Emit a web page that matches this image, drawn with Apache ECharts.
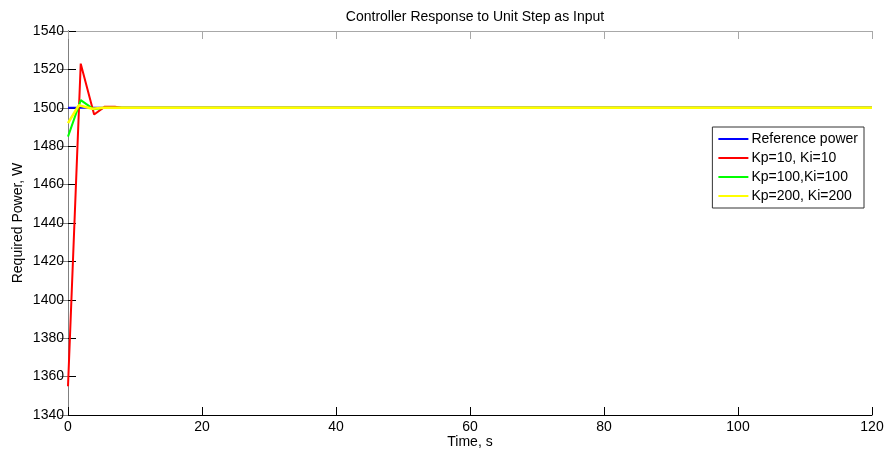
<!DOCTYPE html>
<html>
<head>
<meta charset="utf-8">
<title>Controller Response to Unit Step as Input</title>
<script src="https://cdn.jsdelivr.net/npm/echarts@6/dist/echarts.min.js"></script>
<style>
  html, body { margin: 0; padding: 0; background: #fff; }
  #chart { width: 885px; height: 453px; }
</style>
</head>
<body>
<div id="chart"></div>
<script>
// axis ticks
const xTicks = [0, 20, 40, 60, 80, 100, 120]
const yTicks = [1340, 1360, 1380, 1400, 1420, 1440, 1460, 1480, 1500, 1520, 1540]

// series (time in s, power in W)
const refTime = [0, 120]
const refPower = [1500, 1500]

const kp10Time = [0, 1.9, 3.9, 5.5, 7, 8, 120]
const kp10Power = [1355, 1523, 1496.5, 1500.6, 1500.6, 1500, 1500]

const kp100Time = [0, 1.9, 3.8, 5.5, 120]
const kp100Power = [1485, 1504, 1499.3, 1500, 1500]

const kp200Time = [0, 1.6, 3.6, 5.2, 120]
const kp200Power = [1492, 1501.3, 1499.5, 1500, 1500]

const seriesNames = ['Reference power', 'Kp=10, Ki=10', 'Kp=100,Ki=100', 'Kp=200, Ki=200']
const seriesColors = ['#0000ff', '#ff0000', '#00ff00', '#ffff00']
const seriesWidths = [2, 2, 2, 2.6]

const toPairs = (xs, ys) => xs.map((x, i) => [x, ys[i]])

const chart = echarts.init(document.getElementById('chart'), null, { renderer: 'canvas' })

const font = 'Liberation Sans, Arial, sans-serif'

const baseAxis = {
  type: 'value',
  axisLine: { show: true, lineStyle: { color: '#000', width: 1 } },
  axisTick: { show: true, inside: true, length: 8, lineStyle: { color: '#000' } },
  splitLine: { show: false },
  axisLabel: { color: '#000', fontSize: 14, fontFamily: font, formatter: v => String(v) }
}

const option = {
  backgroundColor: '#fff',
  animation: false,
  title: {
    text: 'Controller Response to Unit Step as Input',
    left: 470,
    top: 5,
    textAlign: 'center',
    textStyle: { fontSize: 14, fontWeight: 'normal', color: '#000', fontFamily: font }
  },
  grid: { left: 68, right: 13, top: 31, bottom: 38, containLabel: false, outerBoundsMode: 'none' },
  legend: {
    orient: 'vertical',
    right: 21,
    top: 127,
    padding: [5, 6, 5, 6],
    itemGap: 5,
    itemWidth: 30,
    itemHeight: 2,
    icon: 'rect',
    borderColor: '#333',
    borderWidth: 1,
    backgroundColor: '#fff',
    data: seriesNames,
    textStyle: { fontSize: 14, lineHeight: 14, color: '#000', fontFamily: font, padding: [0, 0, 0, -2] }
  },
  xAxis: [
    Object.assign({}, baseAxis, {
      min: xTicks[0],
      max: xTicks[xTicks.length - 1],
      interval: 20,
      position: 'bottom',
      name: 'Time, s',
      nameLocation: 'middle',
      nameGap: 20,
      nameMoveOverlap: false,
      nameTextStyle: { fontSize: 14, color: '#000', fontFamily: font },
      axisLabel: Object.assign({}, baseAxis.axisLabel, { margin: 5 })
    }),
    Object.assign({}, baseAxis, {
      min: xTicks[0],
      max: xTicks[xTicks.length - 1],
      interval: 20,
      position: 'top',
      axisLine: { show: true, lineStyle: { color: '#a8a8a8' } },
      axisTick: { show: true, inside: true, length: 8, lineStyle: { color: '#a8a8a8' } },
      axisLabel: { show: false }
    })
  ],
  yAxis: [
    Object.assign({}, baseAxis, {
      min: yTicks[0],
      max: yTicks[yTicks.length - 1],
      interval: 20,
      position: 'left',
      name: 'Required Power, W',
      nameLocation: 'middle',
      nameGap: 43,
      nameMoveOverlap: false,
      nameTextStyle: { fontSize: 14, color: '#000', fontFamily: font },
      axisLabel: Object.assign({}, baseAxis.axisLabel, { margin: 4 })
    }),
    Object.assign({}, baseAxis, {
      min: yTicks[0],
      max: yTicks[yTicks.length - 1],
      interval: 20,
      position: 'right',
      axisLine: { show: true, lineStyle: { color: '#808080' } },
      axisTick: { show: true, inside: true, length: 8, lineStyle: { color: '#808080' } },
      axisLabel: { show: false }
    })
  ],
  series: [
    [refTime, refPower],
    [kp10Time, kp10Power],
    [kp100Time, kp100Power],
    [kp200Time, kp200Power]
  ].map(([t, p], i) => ({
    name: seriesNames[i],
    type: 'line',
    xAxisIndex: 0,
    yAxisIndex: 0,
    data: toPairs(t, p),
    showSymbol: false,
    symbol: 'none',
    color: seriesColors[i],
    lineStyle: { color: seriesColors[i], width: seriesWidths[i] },
    z: 2 + i
  }))
}

chart.setOption(option)
</script>
</body>
</html>
